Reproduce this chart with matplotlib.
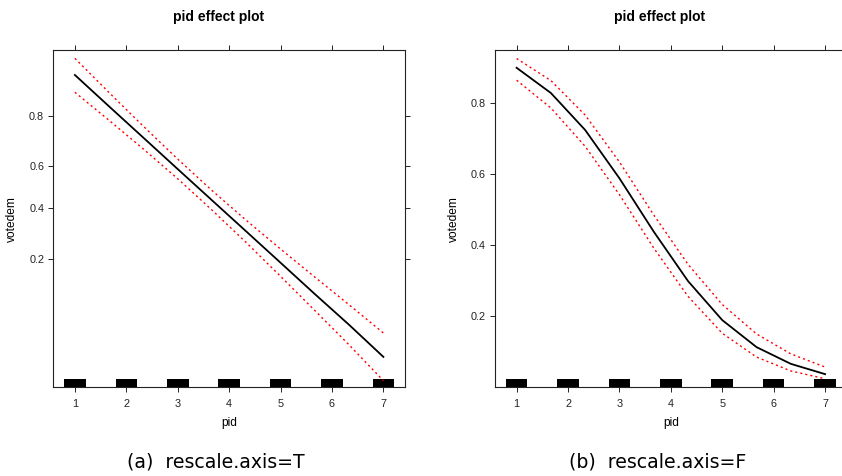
import numpy as np
import matplotlib.pyplot as plt
from matplotlib.ticker import NullLocator, NullFormatter

plt.rcParams['font.family'] = ['Liberation Sans', 'DejaVu Sans']

# effect of pid on votedem (fitted probability and 95% band)
pid_grid = [1.0, 1.667, 2.333, 3.0, 3.667, 4.333, 5.0, 5.667, 6.333, 7.0]
fit = [0.898, 0.827, 0.723, 0.587, 0.437, 0.298, 0.188, 0.112, 0.065, 0.036]
lower = [0.863, 0.785, 0.677, 0.541, 0.391, 0.255, 0.151, 0.084, 0.045, 0.023]
upper = [0.924, 0.862, 0.765, 0.633, 0.484, 0.345, 0.232, 0.149, 0.093, 0.056]

pid_levels = [1, 2, 3, 4, 5, 6, 7]
y_ticks = [0.2, 0.4, 0.6, 0.8]
y_labels = ['0.2', '0.4', '0.6', '0.8']

captions = ['(a)  rescale.axis=T', '(b)  rescale.axis=F']


def effect_panel(ax, logit_axis):
    ax.plot(pid_grid, fit, color='black', lw=1.3)
    for band in (lower, upper):
        ax.plot(pid_grid, band, color='red', lw=1.0, dashes=(1.5, 2.2))

    # rug marks at the observed pid values
    for p in pid_levels:
        ax.axvspan(p - 0.21, p + 0.21, ymin=0, ymax=0.0237,
                   color='black', lw=0)

    ax.set_xlim(0.58, 7.42)
    if logit_axis:
        ax.set_yscale('logit')
        ax.set_ylim(0.0203, 0.9346)
    else:
        ax.set_ylim(-0.001, 0.948)
    ax.set_yticks(y_ticks)
    ax.set_yticklabels(y_labels)
    ax.yaxis.set_minor_locator(NullLocator())
    ax.yaxis.set_minor_formatter(NullFormatter())
    ax.set_xticks(pid_levels)
    ax.set_xticklabels([str(p) for p in pid_levels])

    ax.tick_params(axis='both', direction='out', length=3.6, width=0.7,
                   labelsize=7.8, colors='#222222', pad=4)
    ax.tick_params(axis='x', top=True, labeltop=False, pad=5)
    ax.tick_params(axis='y', right=True, labelright=False, pad=3)
    for s in ax.spines.values():
        s.set_linewidth(0.8)
        s.set_color('#222222')


fig = plt.figure(figsize=(8.42, 4.76), dpi=100)
W, H = 842.0, 476.0

panels = [(53.3, True), (495.0, False)]
for i, (x0, logit_axis) in enumerate(panels):
    ax = fig.add_axes([x0 / W, (H - 387.3) / H, 351.7 / W, 337.3 / H])
    effect_panel(ax, logit_axis)
    cx = x0 + 351.7 / 2
    fig.text((cx - 11) / W, 1 - 17.5 / H, 'pid effect plot',
             ha='center', va='center', fontsize=10, fontweight='bold')
    fig.text(cx / W, 1 - 422.7 / H, 'pid', ha='center', va='center',
             fontsize=8.6)
    fig.text((x0 - 41) / W, 1 - 218.7 / H, 'votedem', ha='center',
             va='center', rotation=90, fontsize=8.6)
    fig.text((cx - 13) / W, 1 - 462 / H, captions[i], ha='center',
             va='center', fontsize=13.6, family='DejaVu Sans')

fig.savefig('out.png', dpi=100)
